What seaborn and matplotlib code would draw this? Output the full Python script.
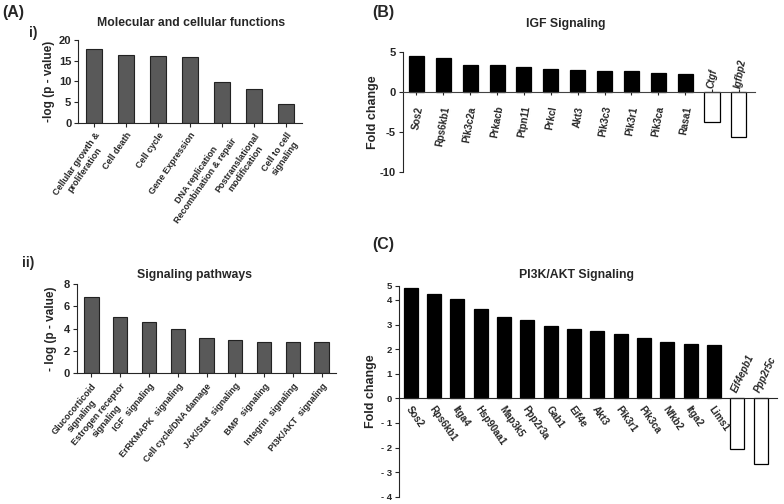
import pandas as pd
import matplotlib
matplotlib.use("Agg")
import matplotlib.pyplot as plt
import matplotlib.transforms as mtransforms
import seaborn as sns

# panel A-i : molecular and cellular functions
mcf_terms = ["Cellular growth &\nproliferation", "Cell death", "Cell cycle",
             "Gene Expression", "DNA replication\nRecombination & repair",
             "Postranslational\nmodification", "Cell to cell\nsignaling"]
mcf_values = [17.8, 16.4, 16.2, 15.9, 9.8, 8.2, 4.6]

# panel A-ii : signaling pathways
path_terms = ["Glucocorticoid\nsignaling", "Estrogen receptor\nsignaling",
              "IGF  signaling", "ErRKMAPK  signaling", "Cell cycle/DNA damage",
              "JAK/Stat  signaling", "BMP  signaling", "Integrin  signaling",
              "PI3K/AKT  signaling"]
path_values = [6.8, 5.0, 4.6, 4.0, 3.2, 3.0, 2.8, 2.8, 2.8]

# panel B : IGF signaling
igf_genes = ["Sos2", "Rps6kb1", "Pik3c2a", "Prkacb", "Ptpn11", "Prkcl", "Akt3",
             "Pik3c3", "Pik3r1", "Pik3ca", "Rasa1", "Ctgf", "Igfbp2"]
igf_fc = [4.55, 4.25, 3.45, 3.45, 3.15, 2.95, 2.75, 2.65, 2.65, 2.45, 2.25, -3.7, -5.6]

# panel C : PI3K/AKT signaling
pi3k_genes = ["Sos2", "Rps6kb1", "Itga4", "Hsp90aa1", "Map3k5", "Ppp2r3a", "Gab1",
              "Eif4e", "Akt3", "Pik3r1", "Pik3ca", "Nfkb2", "Itga2", "Lims1",
              "Eif4epb1", "Ppp2r5c"]
pi3k_fc = [4.50, 4.23, 4.04, 3.64, 3.31, 3.19, 2.96, 2.83, 2.72, 2.63, 2.46,
           2.28, 2.22, 2.17, -2.06, -2.67]
pi3k_yticks = [-4, -3, -2, -1, 0, 1, 2, 3, 4, 4.58]
pi3k_yticklabels = ["- 4", "- 3", "- 2", "- 1", "0", "1", "2", "3", "4", "5"]

sns.set_style("ticks")
plt.rcParams["font.family"] = ["Liberation Sans", "DejaVu Sans"]
plt.rcParams["font.weight"] = "bold"
plt.rcParams["axes.unicode_minus"] = False

W, H = 784, 504
fig = plt.figure(figsize=(W / 100, H / 100), dpi=100)


def px_axes(l, t, r, b):
    return fig.add_axes([l / W, 1 - b / H, (r - l) / W, (b - t) / H])


def ftext(x, y, s, **kw):
    fig.text(x / W, 1 - y / H, s, **kw)


def bold_ticks(ax, size):
    for lab in ax.get_yticklabels():
        lab.set_fontweight("bold")
        lab.set_fontsize(size)


def term_panel(ax, terms, values, rot):
    df = pd.DataFrame({"term": terms, "value": values})
    sns.barplot(data=df, x="term", y="value", color="#595959", edgecolor="#222222",
                linewidth=0.8, width=0.5, saturation=1, ax=ax)
    ax.set_xlim(-0.5, len(terms) - 0.5)
    ax.set_xlabel("")
    ax.set_xticks(range(len(terms)))
    ax.set_xticklabels(terms, rotation=rot, ha="right", rotation_mode="anchor",
                       fontsize=6.5, fontweight="bold", multialignment="center")
    ax.tick_params(axis="y", length=3, width=0.8, pad=2)
    ax.tick_params(axis="x", length=3, width=0.8, pad=3)
    sns.despine(ax=ax)


# ---- A-i
ax1 = px_axes(78.3, 40, 302, 122.7)
term_panel(ax1, mcf_terms, mcf_values, 55)
ax1.set_ylim(0, 20)
ax1.set_yticks([0, 5, 10, 15, 20])
bold_ticks(ax1, 8)
ax1.set_ylabel("-log (p - value)", fontsize=8.5, fontweight="bold", labelpad=3)

# ---- A-ii
ax2 = px_axes(77, 284, 336, 373.3)
term_panel(ax2, path_terms, path_values, 50)
ax2.set_ylim(0, 8)
ax2.set_yticks([0, 2, 4, 6, 8])
bold_ticks(ax2, 8)
ax2.set_ylabel("- log (p - value)", fontsize=8.5, fontweight="bold", labelpad=5)


def fold_panel(ax, genes, fc, width):
    df = pd.DataFrame({"gene": genes, "fc": fc})
    df["dir"] = ["up" if v > 0 else "down" for v in fc]
    sns.barplot(data=df, x="gene", y="fc", hue="dir",
                palette={"up": "black", "down": "white"}, dodge=False,
                legend=False, edgecolor="black", linewidth=0.9, width=width,
                saturation=1, ax=ax)
    ax.set_xticks(range(len(genes)))
    ax.set_xticklabels([])
    ax.set_xlabel("")
    ax.spines["bottom"].set_position(("data", 0))
    sns.despine(ax=ax)
    return df


# ---- B
ax3 = px_axes(403, 52.3, 755, 172)
fold_panel(ax3, igf_genes, igf_fc, 0.56)
ax3.set_xlim(-0.5, 12.6)
ax3.set_ylim(-10, 5)
ax3.set_yticks([-10, -5, 0, 5])
bold_ticks(ax3, 8)
ax3.set_ylabel("Fold change", fontsize=9, fontweight="bold", labelpad=1)
ax3.tick_params(axis="y", length=3, width=0.8, pad=2)
ax3.tick_params(axis="x", direction="inout", length=4, width=0.8)
ax3.spines["bottom"].set_color("#444444")
for i, (g, v) in enumerate(zip(igf_genes, igf_fc)):
    if v > 0:
        tr = mtransforms.offset_copy(ax3.transData, fig=fig, x=3, y=-14, units="dots")
        ax3.text(i, 0, g, transform=tr, rotation=80, ha="right", va="center",
                 rotation_mode="anchor", fontsize=7, fontweight="bold")
    else:
        tr = mtransforms.offset_copy(ax3.transData, fig=fig, x=-1, y=4, units="dots")
        ax3.text(i, 0, g, transform=tr, rotation=80, ha="left", va="center",
                 rotation_mode="anchor", fontsize=7, fontweight="bold",
                 fontstyle="italic")

# ---- C
ax4 = px_axes(399, 285.7, 777, 496.7)
fold_panel(ax4, pi3k_genes, pi3k_fc, 0.6)
ax4.set_xlim(-0.5, 15.7)
ax4.set_ylim(-4, 4.58)
ax4.set_yticks(pi3k_yticks)
ax4.set_yticklabels(pi3k_yticklabels)
bold_ticks(ax4, 6.8)
ax4.set_ylabel("Fold change", fontsize=9, fontweight="bold", labelpad=3)
ax4.tick_params(axis="y", length=3, width=0.8, pad=2)
ax4.tick_params(axis="x", length=0)
for i, (g, v) in enumerate(zip(pi3k_genes, pi3k_fc)):
    if v > 0:
        tr = mtransforms.offset_copy(ax4.transData, fig=fig, x=-3, y=-9, units="dots")
        ax4.text(i, 0, g, transform=tr, rotation=-55, ha="left", va="center",
                 rotation_mode="anchor", fontsize=7, fontweight="bold")
    else:
        tr = mtransforms.offset_copy(ax4.transData, fig=fig, x=-3, y=6, units="dots")
        ax4.text(i, 0, g, transform=tr, rotation=65, ha="left", va="center",
                 rotation_mode="anchor", fontsize=7, fontweight="bold",
                 fontstyle="italic")

# titles and panel labels
ftext(190.8, 23.3, "Molecular and cellular functions", ha="center", va="center",
      fontsize=8.8, fontweight="bold")
ftext(194.5, 275, "Signaling pathways", ha="center", va="center",
      fontsize=8.8, fontweight="bold")
ftext(566, 24, "IGF Signaling", ha="center", va="center", fontsize=8.8, fontweight="bold")
ftext(576.5, 275, "PI3K/AKT Signaling", ha="center", va="center",
      fontsize=8.8, fontweight="bold")
ftext(13, 12.7, "(A)", ha="center", va="center", fontsize=11.5, fontweight="bold")
ftext(383, 12.7, "(B)", ha="center", va="center", fontsize=11.5, fontweight="bold")
ftext(383, 245, "(C)", ha="center", va="center", fontsize=11.5, fontweight="bold")
ftext(33, 33, "i)", ha="center", va="center", fontsize=10, fontweight="bold")
ftext(28, 263, "ii)", ha="center", va="center", fontsize=10, fontweight="bold")

plt.savefig("out.png", dpi=100)
